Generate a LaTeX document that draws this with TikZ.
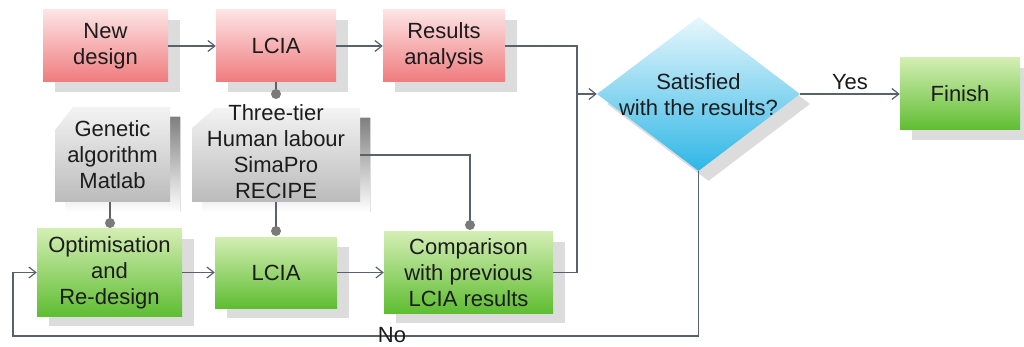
\documentclass[tikz,border=0pt]{standalone}
\usepackage{fontspec}
\setmainfont{Liberation Sans}
\usetikzlibrary{arrows.meta,shapes.geometric,shadows}

\definecolor{redtop}{HTML}{FDE4E4}
\definecolor{redbot}{HTML}{EF7B7E}
\definecolor{greentop}{HTML}{D3EEB3}
\definecolor{greenbot}{HTML}{5FBD32}
\definecolor{bluetop}{HTML}{E8F7FC}
\definecolor{bluebot}{HTML}{2EB6E6}
\definecolor{graytop}{HTML}{F3F3F3}
\definecolor{graybot}{HTML}{BBBBBB}
\definecolor{shade}{HTML}{DCDCDC}
\definecolor{wire}{HTML}{58626C}
\definecolor{dotc}{HTML}{7A7A7A}
\definecolor{ink}{HTML}{1C1C1C}

\begin{document}
\begin{tikzpicture}[x=1pt,y=-1pt,
  every node/.style={text=ink, font=\fontsize{22}{26}\selectfont, align=center, inner sep=0pt},
  boxshadow/.style={general shadow={shadow xshift=12pt, shadow yshift=-10pt, fill=shade, opacity=1}},
  redbox/.style={rectangle, top color=redtop, bottom color=redbot, boxshadow},
  greenbox/.style={rectangle, top color=greentop, bottom color=greenbot, boxshadow},
  graybox/.style={top color=graytop, bottom color=graybot},
  link/.style={draw=wire, line width=1.2pt},
  arr/.style={link, -{Straight Barb[length=7pt,width=11pt,line width=1.2pt]}},
  pin/.style={fill=dotc}]

\useasboundingbox (0,0) rectangle (1024,347);

% upper row
\node[redbox, minimum width=125, minimum height=72] (nd) at (105.5,46) {New\\design};
\node[redbox, minimum width=120, minimum height=72] (la) at (276,46) {LCIA};
\node[redbox, minimum width=122, minimum height=72] (ra) at (444,46) {Results\\analysis};

% decision
\node[diamond, minimum width=203, minimum height=154, top color=bluetop, bottom color=bluebot,
      general shadow={shadow xshift=10pt, shadow yshift=-10pt, fill=shade, opacity=1}] (dq) at (698.5,94) {};
\node (dqt) at (698.5,95) {Satisfied\\with the results?};

\node[greenbox, minimum width=120, minimum height=72] (fin) at (960,94) {Finish};

% tool boxes with a cut corner
\fill[shade] (83,117) -- (180,117) -- (180,212) -- (65,212) -- (65,140) -- cycle;
\path[graybox] (73,107) -- (170,107) -- (170,202) -- (55,202) -- (55,130) -- cycle;
\node[minimum width=115, minimum height=95] (ga) at (112.5,154.5) {Genetic\\algorithm\\Matlab};

\fill[shade] (225,118) -- (370,118) -- (370,212) -- (202,212) -- (202,138) -- cycle;
\path[graybox] (215,108) -- (360,108) -- (360,202) -- (192,202) -- (192,128) -- cycle;
\node[minimum width=168, minimum height=94] (tt) at (276,155) {};
\node (ttt) at (276,152) {Three-tier\\Human labour\\SimaPro\\RECIPE};

% lower row
\node[greenbox, minimum width=145, minimum height=87] (opt) at (109.5,272.5) {Optimisation\\and\\Re-design};
\node[greenbox, minimum width=122, minimum height=71] (lb) at (276,272.5) {LCIA};
\node[greenbox, minimum width=169, minimum height=81] (cmp) at (468.5,272.5) {Comparison\\with previous\\LCIA results};

% pin connectors
\coordinate (d1) at (276,94);
\coordinate (d2) at (276,231);
\coordinate (d3) at (470,225);
\coordinate (d4) at (110,223);
\draw[link] (la.south) -- (d1);
\draw[link] (tt.south) -- (d2);
\draw[link] (tt.east) -| (d3);
\draw[link] (d4 |- ga.south) -- (d4);
\foreach \d in {d1,d2,d3,d4} \fill[pin] (\d) circle[radius=5];

% flow
\draw[arr] (nd.east) -- (la.west);
\draw[arr] (la.east) -- (ra.west);
\coordinate (j) at (577,94);
\draw[link] (ra.east) -| (j);
\draw[link] (cmp.east) -| (j);
\draw[arr] (j) -- (dq.west);
\draw[arr] (dq.east) -- node[above=4pt] (yes) {Yes} (fin.west);
\draw[arr] (opt.east) -- (lb.west);
\draw[arr] (lb.east) -- (cmp.west);

% loop back
\coordinate (lp) at (13,336);
\draw[arr] (dq.south) |- (lp) |- (opt.west);
\node (no) at (392,335.5) {No};

\end{tikzpicture}
\end{document}
